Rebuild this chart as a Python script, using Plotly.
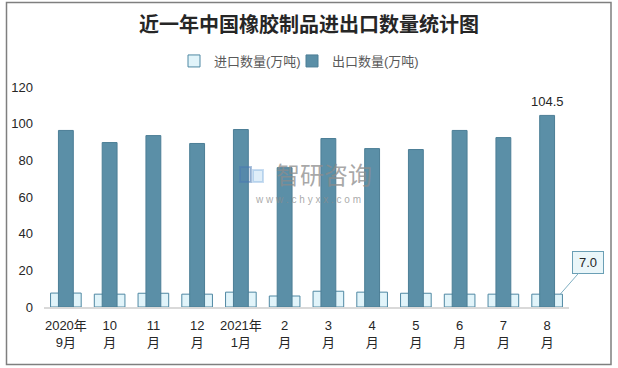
import plotly.graph_objects as go

# ---- data ----
categories = ["2020年<br>9月", "10<br>月", "11<br>月", "12<br>月", "2021年<br>1月", "2<br>月",
              "3<br>月", "4<br>月", "5<br>月", "6<br>月", "7<br>月", "8<br>月"]
import_vals = [7.6, 7.0, 7.5, 7.0, 8.1, 6.0, 8.6, 8.1, 7.5, 7.0, 7.0, 7.0]
export_vals = [96.3, 89.7, 93.5, 89.2, 96.8, 76.0, 91.9, 86.4, 85.9, 96.3, 92.4, 104.5]
series_names = ["进口数量(万吨)", "出口数量(万吨)"]
title_text = "近一年中国橡胶制品进出口数量统计图"
y_ticks = [0, 20, 40, 60, 80, 100, 120]

xs = list(range(len(categories)))
FONT = "Liberation Sans, Arial, Noto Sans CJK SC, sans-serif"
EXP = "#5B8FA7"
IMP_FILL = "#E1F4FA"
IMP_LINE = "#4F88A3"

fig = go.Figure()
fig.add_trace(go.Bar(
    x=xs, y=import_vals, name=series_names[0], width=0.70, legendwidth=73,
    marker=dict(color=IMP_FILL, line=dict(color=IMP_LINE, width=1)),
    hoverinfo="y",
))
fig.add_trace(go.Bar(
    x=xs, y=export_vals, name=series_names[1], width=0.34,
    marker=dict(color=EXP, line=dict(color="#4C7E96", width=1)),
    hoverinfo="y",
))

# plot area: x 44..569, y 87..307
L, R, T, B = 44, 569, 87, 307
W, H = 618, 368

def px_to_paper_x(px):
    return (px - L) / (R - L)

def px_to_paper_y(py):
    return (B - py) / (B - T)

shapes = [
    dict(type="rect", xref="paper", yref="paper",
         x0=px_to_paper_x(6.5), x1=px_to_paper_x(611),
         y0=px_to_paper_y(364.5), y1=px_to_paper_y(2.5),
         line=dict(color="#7F7F7F", width=1.5), fillcolor="rgba(0,0,0,0)", layer="below"),
    # watermark logo (approximate)
    dict(type="rect", xref="paper", yref="paper",
         x0=px_to_paper_x(240), x1=px_to_paper_x(251),
         y0=px_to_paper_y(182), y1=px_to_paper_y(167),
         line=dict(color="rgba(70,120,180,0.45)", width=2), fillcolor="rgba(70,120,180,0.25)",
         layer="above"),
    dict(type="rect", xref="paper", yref="paper",
         x0=px_to_paper_x(253), x1=px_to_paper_x(263),
         y0=px_to_paper_y(182), y1=px_to_paper_y(170),
         line=dict(color="rgba(120,170,220,0.4)", width=2), fillcolor="rgba(150,200,235,0.3)",
         layer="above"),
]

annotations = [
    dict(x=xs[-1], y=export_vals[-1], text=f"{export_vals[-1]:.1f}", showarrow=False,
         yanchor="bottom", yshift=4, font=dict(family=FONT, size=13, color="#262626")),
    dict(x=xs[-1] + 0.3, y=import_vals[-1], text=f"{import_vals[-1]:.1f}", showarrow=True,
         arrowhead=0, arrowwidth=1, arrowcolor="#7FAFC2", ax=28, ay=-32,
         bgcolor="#EAF6F9", bordercolor="#6A9FB5", borderwidth=1, borderpad=2,
         width=26, height=17, font=dict(family=FONT, size=13, color="#262626")),
    dict(xref="paper", yref="paper", x=px_to_paper_x(324), y=px_to_paper_y(173),
         text="智研咨询", showarrow=False,
         font=dict(family="Noto Sans CJK SC", size=24, color="rgba(140,140,140,0.75)")),
    dict(xref="paper", yref="paper", x=px_to_paper_x(308), y=px_to_paper_y(199),
         text="w w w . c h y x x . c o m", showarrow=False,
         font=dict(family=FONT, size=10, color="rgba(140,140,140,0.75)")),
]

fig.update_layout(
    width=W, height=H,
    margin=dict(l=L, r=W - R, t=T, b=H - B, pad=0, autoexpand=False),
    paper_bgcolor="white", plot_bgcolor="white",
    barmode="overlay",
    title=dict(text=title_text, x=0.5, xref="container", xanchor="center",
               y=1 - 25 / H, yref="container", yanchor="middle",
               font=dict(family="Noto Sans CJK SC", size=20, color="#262626", weight="bold")),
    legend=dict(orientation="h", xref="container", x=(219 - 45) / W, xanchor="left",
                yref="container", y=1 - 61 / H, yanchor="middle",
                font=dict(family=FONT, size=13, color="#595959"),
                itemwidth=30, traceorder="normal"),
    xaxis=dict(range=[-0.5, len(categories) - 0.5], tickvals=xs, ticktext=categories,
               showgrid=False, zeroline=False, showline=True, linecolor="#D9D9D9", linewidth=1.5,
               ticks="", tickfont=dict(family=FONT, size=13, color="#262626"),
               ticklabelstandoff=6),
    yaxis=dict(range=[0, 120], tickvals=y_ticks, showgrid=False, zeroline=False, showline=False,
               ticks="", tickfont=dict(family=FONT, size=13, color="#262626"),
               ticklabelstandoff=10),
    shapes=shapes,
    annotations=annotations,
    showlegend=True,
)

fig.write_html("out.html", post_script="document.body.style.margin='0';",
               config={"displayModeBar": False})
